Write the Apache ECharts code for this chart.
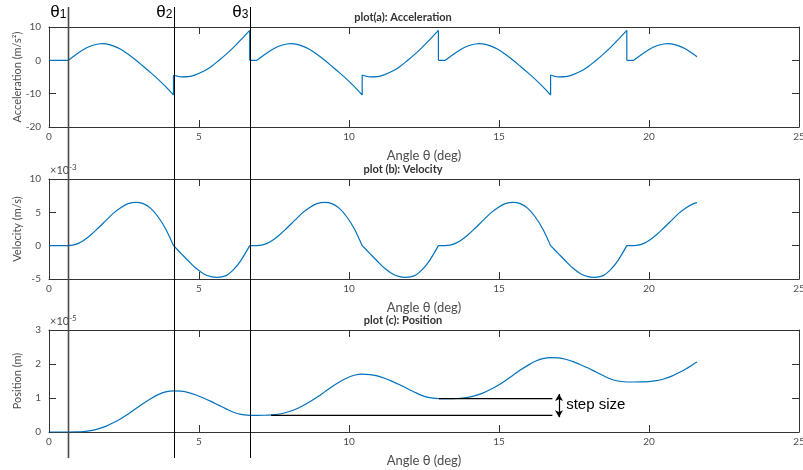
<!DOCTYPE html>
<html>
<head>
<meta charset="utf-8">
<script src="https://cdn.jsdelivr.net/npm/echarts@6/dist/echarts.min.js"></script>
<style>
  html, body { margin: 0; padding: 0; background: #fff; }
  #chart { width: 803px; height: 470px; }
</style>
</head>
<body>
<div id="chart"></div>
<script>
// Cam follower kinematics over the input angle θ (deg).
// Each quantity is stored as a list of smooth pieces; the pieces meet at
// the phase boundaries, where the curve has a kink or a jump.

// Acceleration (m/s^2): [θ, a]
const accelPieces = [
  [[0, 0], [0.644, 0]],
  [[0.644, 0], [0.89, 1.7], [1.14, 3.2], [1.39, 4.3], [1.64, 4.9], [1.77, 5.0], [1.89, 4.95], [2.14, 4.35], [2.39, 3.3],
   [2.64, 1.8], [2.90, 0], [3.14, -1.8], [3.39, -3.7], [3.64, -5.7], [3.89, -7.9], [4.15, -10.4]],
  [[4.15, -4.4], [4.40, -4.95], [4.65, -4.9], [4.90, -4.3], [5.15, -3.3], [5.40, -1.9], [5.65, -0.1],
   [5.90, 1.8], [6.15, 3.9], [6.40, 6.2], [6.69, 9.0]],
  [[6.69, 0], [6.93, 0]],
  [[6.93, 0], [7.18, 1.7], [7.43, 3.2], [7.68, 4.3], [7.93, 4.9], [8.06, 5.0], [8.18, 4.95], [8.43, 4.35], [8.68, 3.3],
   [8.93, 1.8], [9.19, 0], [9.43, -1.8], [9.68, -3.7], [9.93, -5.7], [10.18, -7.9], [10.44, -10.4]],
  [[10.44, -4.4], [10.69, -4.95], [10.94, -4.9], [11.19, -4.3], [11.44, -3.3], [11.69, -1.9], [11.94, -0.1],
   [12.19, 1.8], [12.44, 3.9], [12.69, 6.2], [12.98, 9.0]],
  [[12.98, 0], [13.21, 0]],
  [[13.21, 0], [13.46, 1.7], [13.71, 3.2], [13.96, 4.3], [14.21, 4.9], [14.34, 5.0], [14.46, 4.95], [14.71, 4.35], [14.96, 3.3],
   [15.21, 1.8], [15.47, 0], [15.71, -1.8], [15.96, -3.7], [16.21, -5.7], [16.46, -7.9], [16.72, -10.4]],
  [[16.72, -4.4], [16.97, -4.95], [17.22, -4.9], [17.47, -4.3], [17.72, -3.3], [17.97, -1.9], [18.22, -0.1],
   [18.47, 1.8], [18.72, 3.9], [18.97, 6.2], [19.26, 9.0]],
  [[19.26, 0], [19.49, 0]],
  [[19.49, 0], [19.74, 1.7], [19.99, 3.2], [20.24, 4.3], [20.49, 4.9], [20.62, 5.0], [20.74, 4.95], [20.99, 4.35], [21.24, 3.3],
   [21.49, 1.8], [21.60, 1.1]]
];

// Velocity (×10^-3 m/s): [θ, v]
const velocityPieces = [
  [[0, 0], [0.644, 0]],
  [[0.644, 0], [0.89, 0.19], [1.14, 0.75], [1.39, 1.6], [1.64, 2.65], [1.89, 3.75], [2.14, 4.85], [2.39, 5.7], [2.64, 6.3],
   [2.90, 6.5], [3.14, 6.3], [3.39, 5.6], [3.64, 4.3], [3.89, 2.5], [4.15, 0]],
  [[4.15, 0], [4.40, -1.15], [4.65, -2.3], [4.90, -3.4], [5.15, -4.2], [5.40, -4.65], [5.60, -4.75], [5.90, -4.5],
   [6.15, -3.6], [6.40, -2.2], [6.69, 0]],
  [[6.69, 0], [6.93, 0]],
  [[6.93, 0], [7.18, 0.19], [7.43, 0.75], [7.68, 1.6], [7.93, 2.65], [8.18, 3.75], [8.43, 4.85], [8.68, 5.7], [8.93, 6.3],
   [9.19, 6.5], [9.43, 6.3], [9.68, 5.6], [9.93, 4.3], [10.18, 2.5], [10.44, 0]],
  [[10.44, 0], [10.69, -1.15], [10.94, -2.3], [11.19, -3.4], [11.44, -4.2], [11.69, -4.65], [11.89, -4.75], [12.19, -4.5],
   [12.44, -3.6], [12.69, -2.2], [12.98, 0]],
  [[12.98, 0], [13.21, 0]],
  [[13.21, 0], [13.46, 0.19], [13.71, 0.75], [13.96, 1.6], [14.21, 2.65], [14.46, 3.75], [14.71, 4.85], [14.96, 5.7], [15.21, 6.3],
   [15.47, 6.5], [15.71, 6.3], [15.96, 5.6], [16.21, 4.3], [16.46, 2.5], [16.72, 0]],
  [[16.72, 0], [16.97, -1.15], [17.22, -2.3], [17.47, -3.4], [17.72, -4.2], [17.97, -4.65], [18.17, -4.75], [18.47, -4.5],
   [18.72, -3.6], [18.97, -2.2], [19.26, 0]],
  [[19.26, 0], [19.49, 0]],
  [[19.49, 0], [19.74, 0.19], [19.99, 0.75], [20.24, 1.6], [20.49, 2.65], [20.74, 3.75], [20.99, 4.85], [21.24, 5.7],
   [21.49, 6.3], [21.60, 6.45]]
];

// Position (×10^-5 m): [θ, p]
const positionPieces = [
  [[0, 0], [0.644, 0]],
  [[0.644, 0], [0.89, 0.002], [1.14, 0.013], [1.39, 0.04], [1.64, 0.09], [1.89, 0.165], [2.14, 0.27], [2.39, 0.39], [2.64, 0.53],
   [2.90, 0.69], [3.14, 0.84], [3.39, 0.98], [3.64, 1.10], [3.89, 1.18], [4.15, 1.21],
   [4.40, 1.20], [4.65, 1.16], [4.90, 1.09], [5.15, 1.0], [5.40, 0.90], [5.65, 0.79], [5.90, 0.68], [6.15, 0.58],
   [6.40, 0.52], [6.69, 0.49]],
  [[6.69, 0.49], [6.93, 0.49]],
  [[6.93, 0.49], [7.18, 0.492], [7.43, 0.503], [7.68, 0.53], [7.93, 0.58], [8.18, 0.655], [8.43, 0.76], [8.68, 0.88], [8.93, 1.02],
   [9.19, 1.18], [9.43, 1.33], [9.68, 1.47], [9.93, 1.59], [10.18, 1.67], [10.44, 1.70],
   [10.69, 1.69], [10.94, 1.65], [11.19, 1.58], [11.44, 1.49], [11.69, 1.39], [11.94, 1.28], [12.19, 1.17],
   [12.44, 1.07], [12.69, 1.01], [12.98, 0.98]],
  [[12.98, 0.98], [13.21, 0.98]],
  [[13.21, 0.98], [13.46, 0.982], [13.71, 0.993], [13.96, 1.02], [14.21, 1.07], [14.46, 1.145], [14.71, 1.25], [14.96, 1.37],
   [15.21, 1.51], [15.47, 1.67], [15.71, 1.82], [15.96, 1.96], [16.21, 2.08], [16.46, 2.16], [16.72, 2.19],
   [16.97, 2.18], [17.22, 2.14], [17.47, 2.07], [17.72, 1.98], [17.97, 1.88], [18.22, 1.77], [18.47, 1.66],
   [18.72, 1.56], [18.97, 1.50], [19.26, 1.47]],
  [[19.26, 1.47], [19.49, 1.47]],
  [[19.49, 1.47], [19.74, 1.472], [19.99, 1.483], [20.24, 1.51], [20.49, 1.56], [20.74, 1.635], [20.99, 1.74], [21.24, 1.86],
   [21.49, 2.00], [21.60, 2.06]]
];

// Phase boundaries θ1, θ2, θ3
const thetaMarks = [0.644, 4.15, 6.69];
const thetaSubs = ['1', '2', '3'];

// Step-size guide lines in the position plot
const stepLow = [[7.4, 0.49], [16.78, 0.49]];
const stepHigh = [[13.0, 0.98], [16.78, 0.98]];
const stepArrow = [17.0, 0.435, 1.115];   // θ, from, to

// Axis ranges and ticks
const xTicks = [0, 5, 10, 15, 20, 25];
const accelTicks = [-20, -10, 0, 10];
const velTicks = [-5, 0, 5, 10];
const posTicks = [0, 1, 2, 3];

const titles = ['plot(a): Acceleration', 'plot (b): Velocity', 'plot (c): Position'];
const yNames = ['Acceleration (m/s²)', 'Velocity (m/s)', 'Position (m)'];
const exponents = [null, '-3', '-5'];

const FRAME = '#333333';
const TEXT = '#4d4d4d';
const BLUE = '#0072BD';
const FONT = 'Lato, "Noto Sans", sans-serif';
const SANS = '"Liberation Sans", Arial, sans-serif';

// Join the smooth pieces into one series: each piece is smoothed on its own,
// and a straight connector links the end of one piece to the start of the next.
function joinPieces(pieces) {
  const out = [];
  pieces.forEach((p, i) => {
    if (i > 0) {
      const prev = pieces[i - 1];
      out.push(null, prev[prev.length - 1], p[0], null);
    }
    p.forEach(pt => out.push(pt));
  });
  return out;
}

const grids = [
  { left: 49, right: 4, top: 27, height: 100, outerBoundsMode: 'none', containLabel: false },
  { left: 49, right: 4, top: 179, height: 100, outerBoundsMode: 'none', containLabel: false },
  { left: 49, right: 4, top: 330, height: 102, outerBoundsMode: 'none', containLabel: false }
];
const yTickSets = [accelTicks, velTicks, posTicks];

const xAxes = [], yAxes = [];
grids.forEach((g, i) => {
  const base = {
    type: 'value', gridIndex: i,
    min: xTicks[0], max: xTicks[xTicks.length - 1], interval: xTicks[1] - xTicks[0],
    axisLine: { show: true, onZero: false, lineStyle: { color: FRAME, width: 1 } },
    axisTick: { show: true, inside: true, length: 7, lineStyle: { color: FRAME } },
    splitLine: { show: false }
  };
  xAxes.push(Object.assign({}, base, {
    position: 'bottom',
    axisLabel: { color: TEXT, fontSize: 10, margin: 5, fontFamily: FONT },
    name: 'Angle θ (deg)', nameLocation: 'middle', nameGap: 22, nameMoveOverlap: false,
    nameTextStyle: { color: TEXT, fontSize: 13, fontFamily: FONT }
  }));
  xAxes.push(Object.assign({}, base, { position: 'top', axisLabel: { show: false } }));

  const t = yTickSets[i];
  const ybase = {
    type: 'value', gridIndex: i,
    min: t[0], max: t[t.length - 1], interval: t[1] - t[0],
    axisLine: { show: true, onZero: false, lineStyle: { color: FRAME, width: 1 } },
    axisTick: { show: true, inside: true, length: 7, lineStyle: { color: FRAME } },
    splitLine: { show: false }
  };
  yAxes.push(Object.assign({}, ybase, {
    position: 'left',
    axisLabel: { color: TEXT, fontSize: 10, margin: 8, fontFamily: FONT },
    name: yNames[i], nameLocation: 'middle', nameGap: 26, nameMoveOverlap: false,
    nameTextStyle: { color: TEXT, fontSize: 11, fontFamily: FONT }
  }));
  yAxes.push(Object.assign({}, ybase, { position: 'right', axisLabel: { show: false } }));
});

const curve = (pieces, idx) => ({
  type: 'line', data: joinPieces(pieces), xAxisIndex: idx, yAxisIndex: idx,
  showSymbol: false, smooth: 0.3, connectNulls: false, silent: true,
  lineStyle: { color: BLUE, width: 1.2 }
});

const chart = echarts.init(document.getElementById('chart'));
chart.setOption({
  animation: false,
  backgroundColor: '#fff',
  grid: grids,
  xAxis: xAxes,
  yAxis: yAxes,
  series: [
    curve(accelPieces, 0),
    curve(velocityPieces, 2),
    curve(positionPieces, 4),
    {
      type: 'line', data: stepLow, xAxisIndex: 4, yAxisIndex: 4, showSymbol: false, silent: true,
      lineStyle: { color: '#000', width: 1.2 }, z: 3
    },
    {
      type: 'line', data: stepHigh, xAxisIndex: 4, yAxisIndex: 4, showSymbol: false, silent: true,
      lineStyle: { color: '#000', width: 1.2 }, z: 3,
      markLine: {
        silent: true, symbol: ['arrow', 'arrow'], symbolSize: [6, 7],
        lineStyle: { color: '#000', width: 1.2, type: 'solid' },
        label: { show: false },
        data: [[{ coord: [stepArrow[0], stepArrow[1]] }, { coord: [stepArrow[0], stepArrow[2]] }]]
      }
    }
  ]
});

// Annotations placed through the axes' own scales
const graphics = [];
const lineTop = 7, lineBottom = 458;
thetaMarks.forEach((th, i) => {
  const x = Math.round(chart.convertToPixel({ xAxisIndex: 0 }, th)) + 0.5;
  graphics.push({
    type: 'line', silent: true, z: 50,
    shape: { x1: x, y1: lineTop, x2: x, y2: lineBottom },
    style: { stroke: i === 0 ? '#4a4a4a' : '#000', lineWidth: i === 0 ? 1.6 : 1 }
  });
  graphics.push({
    type: 'text', silent: true, z: 50,
    x: x - 2, y: 21,
    style: {
      text: '{t|θ}{s|' + thetaSubs[i] + '}',
      align: 'right', verticalAlign: 'bottom',
      rich: {
        t: { fontSize: 17, fontFamily: SANS, fill: '#000' },
        s: { fontSize: 12, fontFamily: SANS, fill: '#000', padding: [5, 0, 0, 0] }
      }
    }
  });
});

grids.forEach((g, i) => {
  const tl = chart.convertToPixel({ gridIndex: i }, [xTicks[0], yTickSets[i][yTickSets[i].length - 1]]);
  graphics.push({
    type: 'text', silent: true,
    x: 403, y: tl[1] - 10,
    style: {
      text: titles[i], align: 'center', verticalAlign: 'middle',
      fontSize: 11, fontFamily: FONT, fill: '#333', fontWeight: 'bold'
    }
  });
  if (exponents[i]) {
    graphics.push({
      type: 'text', silent: true,
      x: tl[0] + 1, y: tl[1] - 1,
      style: {
        text: '{m|×10}{e|' + exponents[i] + '}',
        align: 'left', verticalAlign: 'bottom',
        rich: {
          m: { fontSize: 11, fontFamily: FONT, fill: TEXT },
          e: { fontSize: 8, fontFamily: FONT, fill: TEXT, padding: [0, 0, 7, 0] }
        }
      }
    });
  }
});

const txtPos = chart.convertToPixel({ gridIndex: 2 }, [17.24, 0.79]);
graphics.push({
  type: 'text', silent: true,
  x: txtPos[0], y: txtPos[1],
  style: {
    text: 'step size', align: 'left', verticalAlign: 'middle',
    fontSize: 15, fontFamily: SANS, fill: '#000'
  }
});

chart.setOption({ graphic: graphics });
</script>
</body>
</html>
